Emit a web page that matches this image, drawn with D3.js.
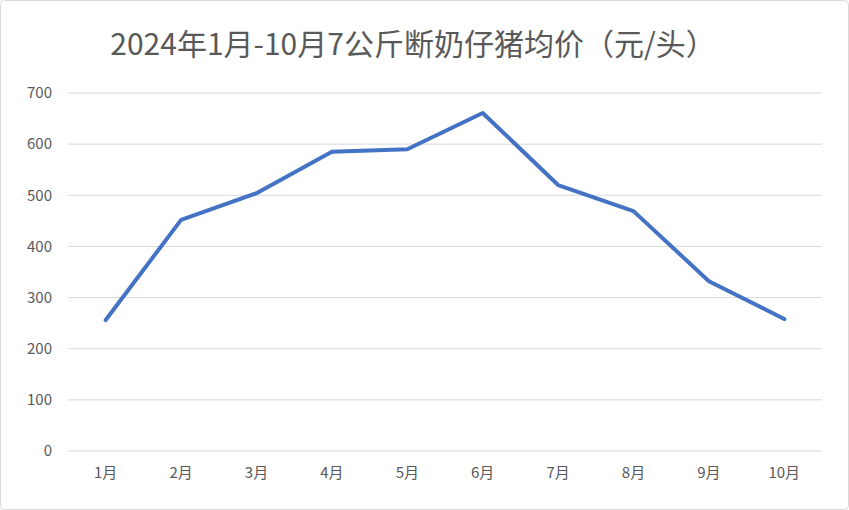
<!DOCTYPE html>
<html>
<head>
<meta charset="utf-8">
<script src="https://cdn.jsdelivr.net/npm/d3@7"></script>
<style>
body { margin: 0; background: #fff; }
</style>
</head>
<body>
<div id="canvas"></div>
<script>
const months = ["1月", "2月", "3月", "4月", "5月", "6月", "7月", "8月", "9月", "10月"];
const prices = [256, 452, 504, 585, 590, 661, 520, 469, 332, 258];
const yTicks = [0, 100, 200, 300, 400, 500, 600, 700];

const width = 849;
const height = 510;
const margin = { top: 93, left: 68, bottom: 59, right: 27 };
const iwidth = width - margin.left - margin.right;
const iheight = height - margin.top - margin.bottom;

const svg = d3.select("#canvas").append("svg")
    .attr("width", width)
    .attr("height", height)
    .style("font-family", "'Noto Sans CJK SC', sans-serif");

svg.append("rect")
    .attr("x", 0.5).attr("y", 0.5)
    .attr("width", width - 1).attr("height", height - 1)
    .attr("rx", 4)
    .style("fill", "#fff")
    .style("stroke", "#d9d9d9");

svg.append("text")
    .attr("x", 413).attr("y", 55)
    .attr("text-anchor", "middle")
    .style("font-size", "30px")
    .style("fill", "#595959")
    .text("2024年1月-10月7公斤断奶仔猪均价（元/头）");

const g = svg.append("g").attr("transform", `translate(${margin.left},${margin.top})`);

const y = d3.scaleLinear().domain([0, 700]).range([iheight, 0]);
const x = d3.scaleBand().domain(months).range([0, iwidth]);

g.selectAll(".grid").data(yTicks).enter().append("line")
    .attr("x1", 0).attr("x2", iwidth)
    .attr("y1", d => y(d)).attr("y2", d => y(d))
    .style("stroke", "#d9d9d9").style("stroke-width", 1);

const yAxis = g.append("g").call(d3.axisLeft(y).tickValues(yTicks).tickSize(0).tickPadding(16));
yAxis.select(".domain").remove();
yAxis.selectAll("text").style("font-size", "15px").style("fill", "#595959").style("font-family", "'Noto Sans CJK SC', sans-serif");

const xAxis = g.append("g").attr("transform", `translate(0,${iheight})`)
    .call(d3.axisBottom(x).tickSize(0).tickPadding(16));
xAxis.select(".domain").remove();
xAxis.selectAll("text").style("font-size", "15px").style("fill", "#595959").style("font-family", "'Noto Sans CJK SC', sans-serif");

const line = d3.line()
    .x((d, i) => x(months[i]) + x.bandwidth() / 2)
    .y(d => y(d));

g.append("path")
    .datum(prices)
    .attr("d", line)
    .style("fill", "none")
    .style("stroke", "#4472C4")
    .style("stroke-width", 4)
    .style("stroke-linejoin", "round")
    .style("stroke-linecap", "round");
</script>
</body>
</html>
